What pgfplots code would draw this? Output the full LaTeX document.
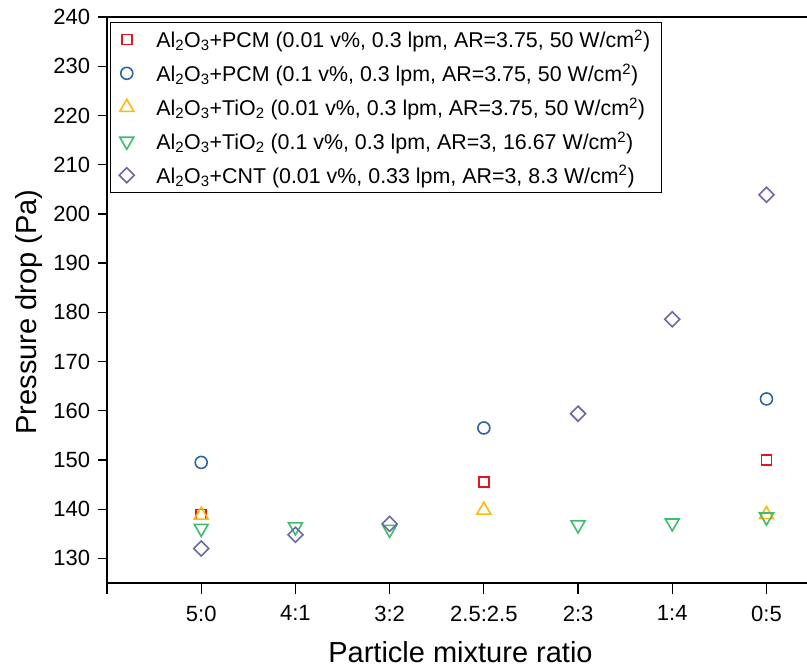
\documentclass[border=0pt]{standalone}
\usepackage{pgfplots}
\pgfplotsset{compat=1.18}
\usepackage{fontspec}
\setmainfont{Liberation Sans}
\definecolor{cred}{HTML}{E8131B}
\definecolor{cblue}{HTML}{2E66A3}
\definecolor{cyellow}{HTML}{FFB80B}
\definecolor{cgreen}{HTML}{3DBE6E}
\definecolor{cpurple}{HTML}{6B69A3}
\begin{document}
\begin{tikzpicture}
\begin{axis}[
  at={(0,0)}, anchor=south west,
  scale only axis, width=700pt, height=566pt,
  xmin=-1, xmax=6.43, ymin=125, ymax=240,
  axis x line*=bottom, axis y line*=left,
  axis line style={-, line width=1.5pt},
  xtick={-1,0,1,2,3,4,5,6},
  xticklabels={,5:0,4:1,3:2,2.5:2.5,2:3,1:4,0:5},
  ytick={130,140,...,240},
  tick align=outside,
  x tick style={line width=1.3pt, black},
  y tick style={line width=1.3pt, black},
  xtick style={/pgfplots/major tick length=11pt},
  ytick style={/pgfplots/major tick length=9pt},
  minor tick num=0,
  /pgf/number format/assume math mode=true,
  /pgf/number format/1000 sep={},
  tick label style={font=\fontsize{22}{26}\selectfont},
  xticklabel style={yshift=-15pt},
  yticklabel style={xshift=-9pt},
  label style={font=\fontsize{29}{34}\selectfont},
  xlabel={Particle mixture ratio},
  ylabel={Pressure drop (Pa)},
  xlabel style={at={(axis description cs:0.505,0)}, anchor=base, yshift=-80pt},
  ylabel style={at={(axis description cs:-0.1014,0.479)}, anchor=base, rotate=0},
  legend style={at={(rel axis cs:0.004,0.991)}, anchor=north west,
    draw=black, line width=1pt, font=\fontsize{21.4}{25}\selectfont,
    row sep=10.5pt, column sep=20pt, inner ysep=5pt, inner xsep=9pt},
  legend cell align=left,
  clip=false,
]
\draw[line width=1.5pt] (rel axis cs:0,1) -- (rel axis cs:1,1);
\addplot[only marks, mark=square, mark size=5pt, cred, mark options={line width=1.6pt}] coordinates {(0,138.9) (3,145.5) (6,150.0)};
\addlegendentry{Al\textsubscript{2}O\textsubscript{3}+PCM (0.01 v\%, 0.3 lpm, AR=3.75, 50 W/cm\textsuperscript{2})}
\addplot[only marks, mark=o, mark size=6pt, cblue, mark options={line width=1.6pt}] coordinates {(0,149.5) (3,156.5) (6,162.4)};
\addlegendentry{Al\textsubscript{2}O\textsubscript{3}+PCM (0.1 v\%, 0.3 lpm, AR=3.75, 50 W/cm\textsuperscript{2})}
\addplot[only marks, mark=triangle, mark size=8pt, cyellow, mark options={line width=1.6pt}] coordinates {(0,138.8) (3,139.8) (6,138.9)};
\addlegendentry{Al\textsubscript{2}O\textsubscript{3}+TiO\textsubscript{2} (0.01 v\%, 0.3 lpm, AR=3.75, 50 W/cm\textsuperscript{2})}
\addplot[only marks, mark=triangle, mark size=8pt, cgreen, mark options={line width=1.6pt, rotate=180}] coordinates {(0,136.1) (1,136.4) (2,135.9) (4,136.8) (5,137.2) (6,138.4)};
\addlegendentry{Al\textsubscript{2}O\textsubscript{3}+TiO\textsubscript{2} (0.1 v\%, 0.3 lpm, AR=3, 16.67 W/cm\textsuperscript{2})}
\addplot[only marks, mark=square, mark size=5.3pt, cpurple, mark options={line width=1.6pt, rotate=45}] coordinates {(0,132.0) (1,134.8) (2,137.0) (4,159.4) (5,178.6) (6,203.9)};
\addlegendentry{Al\textsubscript{2}O\textsubscript{3}+CNT (0.01 v\%, 0.33 lpm, AR=3, 8.3 W/cm\textsuperscript{2})}
\end{axis}
\pgfresetboundingbox
\path (-107pt,-89pt) rectangle (700pt,583pt);
\end{tikzpicture}
\end{document}
